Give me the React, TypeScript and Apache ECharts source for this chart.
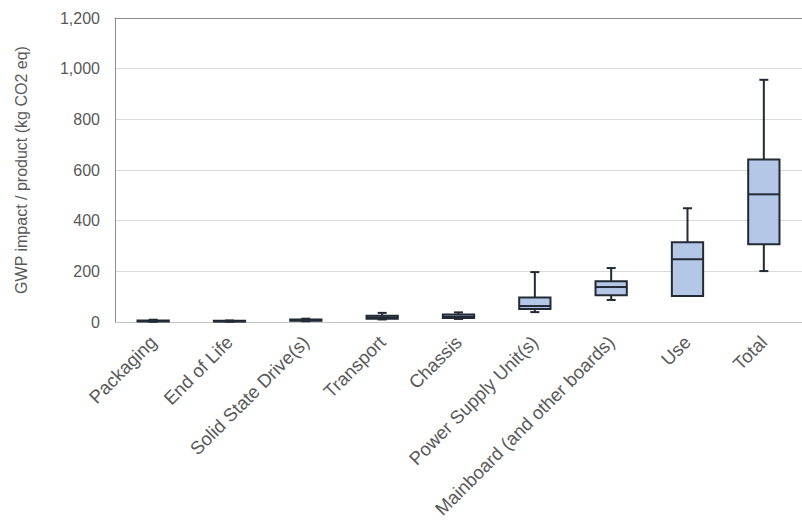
import React, { useEffect, useRef } from "react";
import * as echarts from "echarts";

const categories = [
  "Packaging",
  "End of Life",
  "Solid State Drive(s)",
  "Transport",
  "Chassis",
  "Power Supply Unit(s)",
  "Mainboard (and other boards)",
  "Use",
  "Total",
];
// [min, Q1, median, Q3, max]
const minValues = [1, 1, 3, 10, 12, 39, 87, 130, 201];
const q1Values = [2, 2, 5, 13, 16, 51, 106, 103, 307];
const medianValues = [4, 3, 7, 18, 21, 63, 138, 248, 504];
const q3Values = [6, 5, 10, 25, 30, 97, 161, 315, 641];
const maxValues = [9, 6, 13, 36, 38, 197, 213, 449, 956];
const yTicks = [0, 200, 400, 600, 800, 1000, 1200];

const FONT = "Arial, 'Liberation Sans', sans-serif";
const STROKE = "#222a35";
const FILL = "#b4c7e7";

export default function App() {
  const ref = useRef<HTMLDivElement>(null);
  useEffect(() => {
    if (!ref.current) return;
    const chart = echarts.init(ref.current, null, { renderer: "svg" });
    const data = categories.map((_, i) => [
      i,
      minValues[i],
      q1Values[i],
      medianValues[i],
      q3Values[i],
      maxValues[i],
    ]);
    chart.setOption({
      animation: false,
      backgroundColor: "#ffffff",
      grid: { left: 115, top: 18, width: 688, height: 304 },
      xAxis: [
        {
          type: "category",
          data: categories,
          boundaryGap: true,
          axisLine: { show: true, lineStyle: { color: "#c6c6c6", width: 1 } },
          axisTick: { show: false },
          axisLabel: {
            rotate: 45,
            interval: 0,
            margin: 17,
            color: "#595959",
            fontSize: 18.5,
            fontFamily: FONT,
          },
        },
        {
          type: "category",
          data: categories,
          position: "top",
          axisLine: { show: true, lineStyle: { color: "#8c8c8c", width: 1 } },
          axisTick: { show: false },
          axisLabel: { show: false },
        },
      ],
      yAxis: {
        type: "value",
        min: yTicks[0],
        max: yTicks[yTicks.length - 1],
        interval: 200,
        name: "GWP impact / product (kg CO2 eq)",
        nameLocation: "middle",
        nameGap: 86,
        nameTextStyle: { color: "#595959", fontSize: 16, fontFamily: FONT },
        axisLine: { show: true, lineStyle: { color: "#8c8c8c", width: 1 } },
        axisTick: { show: false },
        axisLabel: {
          color: "#595959",
          fontSize: 16,
          fontFamily: FONT,
          margin: 15,
          formatter: (v: number) => v.toLocaleString("en-US"),
        },
        splitLine: { show: true, lineStyle: { color: "#d9d9d9", width: 1 } },
      },
      series: [
        {
          type: "custom",
          xAxisIndex: 0,
          encode: { x: 0, y: [1, 2, 3, 4, 5] },
          data,
          renderItem: (params: any, api: any) => {
            const idx = api.value(0);
            const pMin = api.coord([idx, api.value(1)]);
            const pQ1 = api.coord([idx, api.value(2)]);
            const pMed = api.coord([idx, api.value(3)]);
            const pQ3 = api.coord([idx, api.value(4)]);
            const pMax = api.coord([idx, api.value(5)]);
            const band = api.size([1, 0])[0];
            const boxW = band * 0.41;
            const capW = 9;
            const cx = pMed[0];
            const lineStyle = { stroke: STROKE, lineWidth: 2, fill: null };
            return {
              type: "group",
              children: [
                {
                  type: "line",
                  shape: { x1: cx, y1: pQ3[1], x2: cx, y2: pMax[1] },
                  style: lineStyle,
                },
                {
                  type: "line",
                  shape: { x1: cx - capW / 2, y1: pMax[1], x2: cx + capW / 2, y2: pMax[1] },
                  style: lineStyle,
                },
                {
                  type: "line",
                  shape: { x1: cx, y1: pQ1[1], x2: cx, y2: pMin[1] },
                  style: lineStyle,
                },
                {
                  type: "line",
                  shape: { x1: cx - capW / 2, y1: pMin[1], x2: cx + capW / 2, y2: pMin[1] },
                  style: lineStyle,
                },
                {
                  type: "rect",
                  shape: {
                    x: cx - boxW / 2,
                    y: pQ3[1],
                    width: boxW,
                    height: pQ1[1] - pQ3[1],
                  },
                  style: { fill: FILL, stroke: STROKE, lineWidth: 2 },
                },
                {
                  type: "line",
                  shape: { x1: cx - boxW / 2, y1: pMed[1], x2: cx + boxW / 2, y2: pMed[1] },
                  style: lineStyle,
                },
              ],
            };
          },
        },
      ],
    });
    return () => chart.dispose();
  }, []);
  return (
    <div
      ref={ref}
      style={{ position: "fixed", left: 0, top: 0, width: 802, height: 525, overflow: "hidden" }}
    />
  );
}
